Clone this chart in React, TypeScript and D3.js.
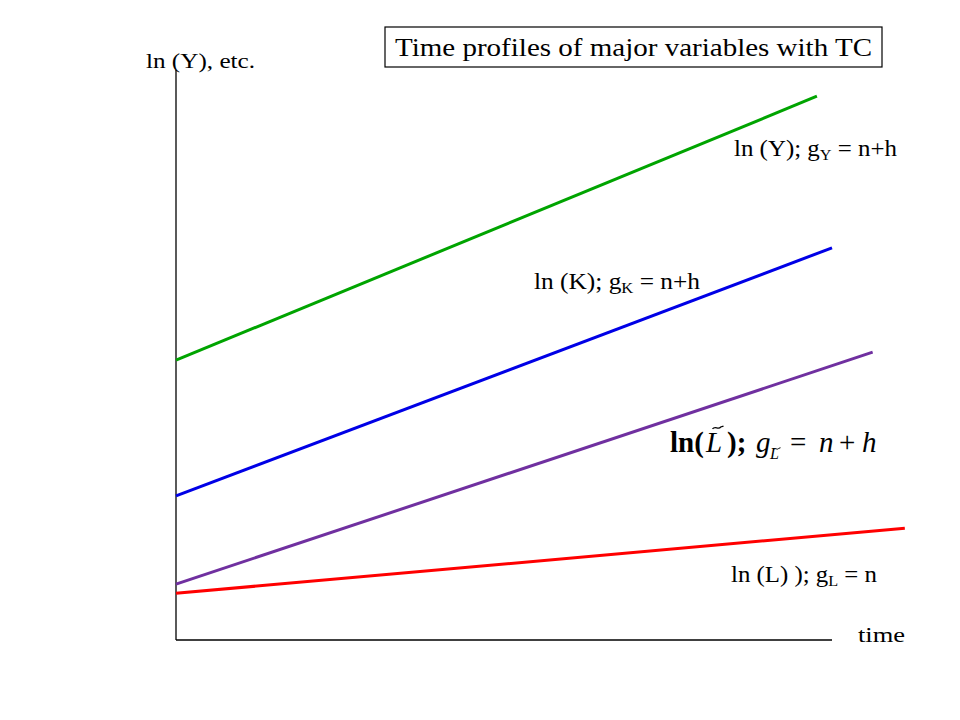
import * as d3 from "d3";

const width = 960;
const height = 720;

// time runs 0..10 along the axis; values are in arbitrary ln units
const series = ["lnY", "lnK", "lnLtilde", "lnL"];
const startTimes = [0, 0, 0, 0];
const endTimes = [9.77, 10, 10.62, 11.11];
const startValues = [4.91, 2.53, 0.98, 0.82];
const endValues = [9.54, 6.88, 5.05, 1.96];
const colors = ["#00a400", "#0000e6", "#7030a0", "#ff0000"];

const serif = "'Liberation Serif', 'DejaVu Serif', serif";

function tildePath(cx: number, cy: number, w: number) {
    const h = w * 0.18;
    return `M${cx - w / 2},${cy + h / 2} C${cx - w / 4},${cy - h * 1.5} ${cx},${cy + h * 1.2} ${cx + w / 4},${cy - h / 2} L${cx + w / 2},${cy - h}`;
}

export default function App() {
    const x = d3.scaleLinear().domain([0, 10]).range([176, 832]);
    const y = d3.scaleLinear().domain([0, 10]).range([640, 70]);
    const line = d3
        .line<[number, number]>()
        .x((d) => x(d[0]))
        .y((d) => y(d[1]));

    return (
        <svg
            width={width}
            height={height}
            style={{ position: "absolute", left: 0, top: 0, background: "#fff" }}
            fontFamily={serif}
        >
            {/* axes */}
            <line x1={x(0)} y1={y(10)} x2={x(0)} y2={y(0)} stroke="#000" strokeWidth={1.3} />
            <line x1={x(0)} y1={y(0)} x2={x(10)} y2={y(0)} stroke="#000" strokeWidth={1.3} />

            {series.map((s, i) => (
                <path
                    key={s}
                    d={
                        line([
                            [startTimes[i], startValues[i]],
                            [endTimes[i], endValues[i]],
                        ]) || undefined
                    }
                    fill="none"
                    stroke={colors[i]}
                    strokeWidth={3}
                />
            ))}

            {/* title box */}
            <rect x={385} y={27} width={497} height={40} fill="#fff" stroke="#000" strokeWidth={1.2} />
            <text x={395} y={56} fontSize={26} textLength={477} lengthAdjust="spacingAndGlyphs">
                Time profiles of major variables with TC
            </text>

            <text x={146} y={68} fontSize={22} textLength={109} lengthAdjust="spacingAndGlyphs">
                ln (Y), etc.
            </text>

            <text x={858} y={642} fontSize={22} textLength={47} lengthAdjust="spacingAndGlyphs">
                time
            </text>

            <text x={734} y={156} fontSize={23} textLength={163} lengthAdjust="spacingAndGlyphs">
                ln (Y); g<tspan fontSize={15} dy={4}>Y</tspan>
                <tspan dy={-4}> = n+h</tspan>
            </text>

            <text x={534} y={289} fontSize={23} textLength={166} lengthAdjust="spacingAndGlyphs">
                ln (K); g<tspan fontSize={15} dy={4}>K</tspan>
                <tspan dy={-4}> = n+h</tspan>
            </text>

            <text x={731} y={582} fontSize={23} textLength={146} lengthAdjust="spacingAndGlyphs">
                ln (L) ); g<tspan fontSize={15} dy={4}>L</tspan>
                <tspan dy={-4}> = n</tspan>
            </text>

            {/* math style label */}
            <text y={452} fontSize={29}>
                <tspan x={670} fontWeight="bold">ln(</tspan>
                <tspan x={706} fontStyle="italic">L</tspan>
                <tspan x={727} fontWeight="bold">);</tspan>
                <tspan x={756} fontStyle="italic">g</tspan>
                <tspan x={770} fontSize={16} fontStyle="italic" dy={7}>L</tspan>
                <tspan x={790} dy={-7}>=</tspan>
                <tspan x={819} fontStyle="italic">n</tspan>
                <tspan x={839}>+</tspan>
                <tspan x={862} fontStyle="italic">h</tspan>
            </text>
            <path d={tildePath(718, 428, 11)} fill="none" stroke="#000" strokeWidth={1.3} />
            <path d={tildePath(777, 449, 7)} fill="none" stroke="#000" strokeWidth={1} />
        </svg>
    );
}
